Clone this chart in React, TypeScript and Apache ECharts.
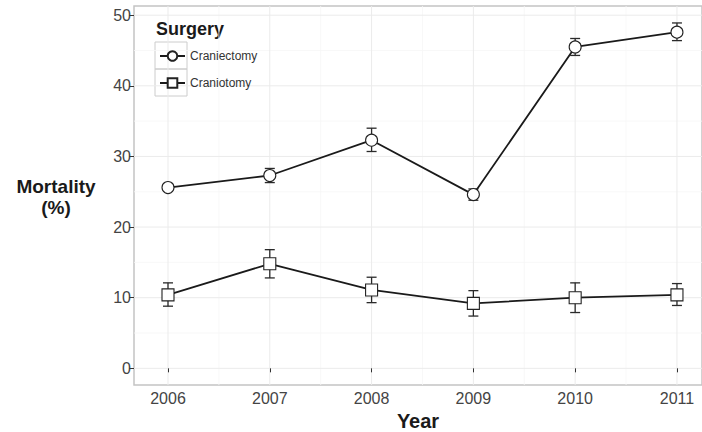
import React, { useEffect, useRef } from "react";
import * as echarts from "echarts";

const years = [2006, 2007, 2008, 2009, 2010, 2011];
const craniectomy = [25.6, 27.3, 32.3, 24.6, 45.5, 47.6];
const craniectomyLow = [25.1, 26.3, 30.7, 23.8, 44.3, 46.4];
const craniectomyHigh = [26.1, 28.3, 34.0, 25.4, 46.7, 48.9];
const craniotomy = [10.4, 14.8, 11.1, 9.2, 10.0, 10.4];
const craniotomyLow = [8.8, 12.8, 9.3, 7.4, 7.9, 8.9];
const craniotomyHigh = [12.1, 16.8, 12.9, 11.0, 12.1, 12.0];
const yTicks = [0, 10, 20, 30, 40, 50];
const yMinorGrid = [5, 15, 25, 35, 45];
const xMinorGrid = [2006.5, 2007.5, 2008.5, 2009.5, 2010.5];

const FONT = "'Liberation Sans', Arial, Helvetica, sans-serif";

export default function App() {
  const ref = useRef<HTMLDivElement>(null);
  useEffect(() => {
    if (!ref.current) return;
    const chart = echarts.init(ref.current, undefined, { renderer: "svg" });

    const gridSeries = (vals: number[], dir: "x" | "y", color: string, width: number) => ({
      type: "custom",
      silent: true,
      z: 0,
      data: vals.map((v) => [v]),
      renderItem: (params: any, api: any) => {
        const cs = params.coordSys;
        const v = api.value(0);
        if (dir === "y") {
          const y = api.coord([years[0], v])[1];
          return {
            type: "line",
            shape: { x1: cs.x, y1: y, x2: cs.x + cs.width, y2: y },
            style: { stroke: color, lineWidth: width },
          };
        }
        const x = api.coord([v, 0])[0];
        return {
          type: "line",
          shape: { x1: x, y1: cs.y, x2: x, y2: cs.y + cs.height },
          style: { stroke: color, lineWidth: width },
        };
      },
    });

    const errSeries = (name: string, low: number[], high: number[]) => ({
      type: "custom",
      name: name + " error",
      silent: true,
      z: 1,
      data: years.map((y, i) => [y, low[i], high[i]]),
      renderItem: (params: any, api: any) => {
        const lo = api.coord([api.value(0), api.value(1)]);
        const hi = api.coord([api.value(0), api.value(2)]);
        const w = 5;
        const st = { stroke: "#2a2a2a", lineWidth: 1.3 };
        return {
          type: "group",
          children: [
            { type: "line", shape: { x1: lo[0], y1: lo[1], x2: hi[0], y2: hi[1] }, style: st },
            { type: "line", shape: { x1: lo[0] - w, y1: lo[1], x2: lo[0] + w, y2: lo[1] }, style: st },
            { type: "line", shape: { x1: hi[0] - w, y1: hi[1], x2: hi[0] + w, y2: hi[1] }, style: st },
          ],
        };
      },
    });

    const lineSeries = (name: string, vals: number[], symbol: string, size: number) => ({
      type: "line",
      name,
      z: 3,
      data: years.map((y, i) => [y, vals[i]]),
      symbol,
      symbolSize: size,
      showAllSymbol: true,
      itemStyle: { color: "#ffffff", borderColor: "#222222", borderWidth: 1.1 },
      lineStyle: { color: "#1a1a1a", width: 1.8 },
    });

    chart.setOption({
      animation: false,
      backgroundColor: "#ffffff",
      grid: {
        left: 134,
        right: 0,
        top: 6,
        bottom: 47,
        containLabel: false,
        outerBoundsMode: "none",
        show: true,
        borderColor: "#c4c4c4",
        borderWidth: 1.5,
        backgroundColor: "transparent",
      },
      xAxis: {
        type: "value",
        min: 2005.666,
        max: 2011.246,
        axisLine: { show: false },
        splitLine: { show: false },
        axisTick: { show: true, length: 4, lineStyle: { color: "#333333", width: 1 }, customValues: years },
        axisLabel: {
          customValues: years,
          formatter: (v: number) => (Number.isInteger(v) ? String(v) : ""),
          color: "#444444",
          fontSize: 16,
          fontFamily: FONT,
          margin: 5,
        },
        name: "Year",
        nameLocation: "middle",
        nameGap: 21,
        nameTextStyle: { fontSize: 20, fontWeight: "bold", color: "#1a1a1a", fontFamily: FONT },
      },
      yAxis: {
        type: "value",
        min: -2.36,
        max: 51.3,
        splitNumber: 5,
        axisLine: { show: false },
        splitLine: { show: false },
        axisTick: { show: true, length: 5, lineStyle: { color: "#333333", width: 1 }, customValues: yTicks },
        axisLabel: {
          customValues: yTicks,
          formatter: (v: number) => (v % 10 === 0 ? String(v) : ""),
          color: "#444444",
          fontSize: 16,
          fontFamily: FONT,
          margin: 3,
        },
      },
      legend: {
        orient: "vertical",
        left: 159,
        top: 50,
        padding: 0,
        itemWidth: 25,
        itemHeight: 12,
        itemGap: 15,
        data: ["Craniectomy", "Craniotomy"],
        textStyle: { fontSize: 12, color: "#333333", fontFamily: FONT },
      },
      graphic: [
        { type: "rect", shape: { x: 155, y: 42, width: 32, height: 27 }, style: { fill: "none", stroke: "#cccccc", lineWidth: 1 }, z: 0 },
        { type: "rect", shape: { x: 155, y: 69, width: 32, height: 27 }, style: { fill: "none", stroke: "#cccccc", lineWidth: 1 }, z: 0 },
        {
          type: "text",
          left: 156,
          top: 20,
          style: { text: "Surgery", fontSize: 18, fontWeight: "bold", fill: "#1a1a1a", fontFamily: FONT },
        },
        {
          type: "text",
          x: 56,
          y: 176,
          style: {
            text: "Mortality\n(%)",
            fontSize: 19,
            fontWeight: "bold",
            fill: "#1a1a1a",
            fontFamily: FONT,
            align: "center",
            lineHeight: 21,
          },
        },
      ],
      series: [
        gridSeries(yMinorGrid, "y", "#f6f6f6", 0.8),
        gridSeries(xMinorGrid, "x", "#f6f6f6", 0.8),
        gridSeries(yTicks, "y", "#ebebeb", 1),
        gridSeries(years, "x", "#ebebeb", 1),
        errSeries("Craniectomy", craniectomyLow, craniectomyHigh),
        errSeries("Craniotomy", craniotomyLow, craniotomyHigh),
        lineSeries("Craniectomy", craniectomy, "circle", 12),
        lineSeries("Craniotomy", craniotomy, "rect", 12),
      ],
    });
    return () => chart.dispose();
  }, []);
  return <div ref={ref} style={{ width: 702, height: 432, position: "absolute", left: 0, top: 0 }} />;
}
